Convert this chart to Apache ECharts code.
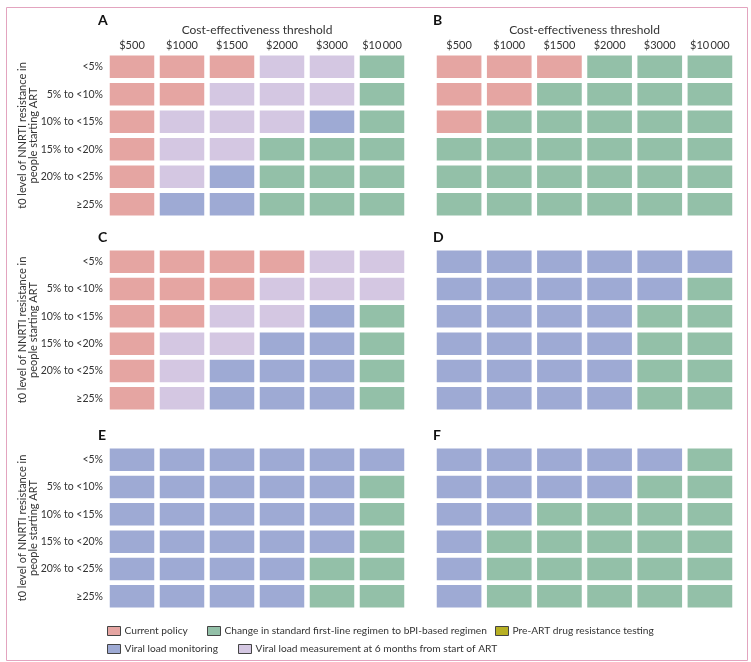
<!DOCTYPE html>
<html><head><meta charset="utf-8">
<script src="https://cdn.jsdelivr.net/npm/echarts@6/dist/echarts.min.js"></script>
<style>html,body{margin:0;padding:0;background:#fff}#c{width:751px;height:662px}</style>
</head><body><div id="c"></div>
<script>
const columns = ['$500', '$1000', '$1500', '$2000', '$3000', '$10\u2009000'];
const rows = ['<5%', '5% to <10%', '10% to <15%', '15% to <20%', '20% to <25%', '≥25%'];
const strategies = ['Current policy', 'Change in standard first-line regimen to bPI-based regimen', 'Pre-ART drug resistance testing', 'Viral load monitoring', 'Viral load measurement at 6 months from start of ART'];
const strategyColors = ['#e5a5a2', '#93c0a8', '#b7b024', '#9eaad4', '#d4c7e2'];
const xTitle = 'Cost-effectiveness threshold';
const yTitle = 't0 level of NNRTI resistance in\npeople starting ART';
// codes: 0 current policy, 1 bPI regimen, 2 pre-ART testing, 3 VL monitoring, 4 VL at 6 months
const panelA = [[0,0,0,4,4,1],[0,0,4,4,4,1],[0,4,4,4,3,1],[0,4,4,1,1,1],[0,4,3,1,1,1],[0,3,3,1,1,1]];
const panelB = [[0,0,0,1,1,1],[0,0,1,1,1,1],[0,1,1,1,1,1],[1,1,1,1,1,1],[1,1,1,1,1,1],[1,1,1,1,1,1]];
const panelC = [[0,0,0,0,4,4],[0,0,0,4,4,4],[0,0,4,4,3,1],[0,4,4,3,3,1],[0,4,3,3,3,1],[0,4,3,3,3,1]];
const panelD = [[3,3,3,3,3,3],[3,3,3,3,3,1],[3,3,3,3,1,1],[3,3,3,3,1,1],[3,3,3,3,1,1],[3,3,3,3,1,1]];
const panelE = [[3,3,3,3,3,3],[3,3,3,3,3,1],[3,3,3,3,3,1],[3,3,3,3,3,1],[3,3,3,3,1,1],[3,3,3,3,1,1]];
const panelF = [[3,3,3,3,3,1],[3,3,3,3,1,1],[3,3,1,1,1,1],[3,1,1,1,1,1],[3,1,1,1,1,1],[3,1,1,1,1,1]];
const panels = [panelA, panelB, panelC, panelD, panelE, panelF];
const panelLetters = ['A', 'B', 'C', 'D', 'E', 'F'];

const FONT = 'Lato';
const TXT = '#333';
const gridPos = [
  {left: 107, top: 53, width: 300, height: 165},
  {left: 434, top: 53, width: 301, height: 165},
  {left: 107, top: 248, width: 300, height: 164},
  {left: 434, top: 248, width: 301, height: 164},
  {left: 107, top: 446, width: 300, height: 164},
  {left: 434, top: 446, width: 301, height: 164}
];
const grids = [], xAxes = [], yAxes = [], series = [], graphics = [];
gridPos.forEach((g, i) => {
  grids.push(Object.assign({containLabel: false}, g));
  const isTop = i < 2, isLeft = i % 2 === 0;
  xAxes.push({
    type: 'category', gridIndex: i, data: columns, position: 'top',
    axisLine: {show: false}, axisTick: {show: false}, splitLine: {show: false},
    axisLabel: {show: isTop, interval: 0, color: TXT, fontFamily: FONT, fontSize: 11, margin: 2},
    name: isTop ? xTitle : '', nameLocation: 'middle', nameGap: 17,
    nameMoveOverlap: false,
    nameTextStyle: {color: TXT, fontFamily: FONT, fontSize: 12}
  });
  yAxes.push({
    type: 'category', gridIndex: i, data: rows, inverse: true,
    axisLine: {show: false}, axisTick: {show: false}, splitLine: {show: false},
    axisLabel: {show: isLeft, interval: 0, color: TXT, fontFamily: FONT, fontSize: 10.5, margin: 4}
  });
  const data = [];
  panels[i].forEach((row, r) => row.forEach((code, c) => data.push([c, r, code])));
  series.push({
    type: 'custom', xAxisIndex: i, yAxisIndex: i, data: data, silent: true,
    renderItem: function (params, api) {
      const p = api.coord([api.value(0), api.value(1)]);
      const s = api.size([1, 1]);
      const gx = 2.75, gy = 2.4;
      return {type: 'rect', shape: {x: p[0] - s[0] / 2 + gx, y: p[1] - s[1] / 2 + gy, width: s[0] - 2 * gx, height: s[1] - 2 * gy},
        style: {fill: strategyColors[api.value(2)]}};
    }
  });
  graphics.push({type: 'text', left: isLeft ? 98 : 433, top: g.top - (isTop ? 40 : 18),
    style: {text: panelLetters[i], fill: '#111', font: 'bold 14px "' + FONT + '"'}});
  if (isLeft) {
    graphics.push({type: 'text', x: 28, y: g.top + g.height / 2, rotation: Math.PI / 2, silent: true,
      style: {text: yTitle, fill: TXT, font: '11px "' + FONT + '"', lineHeight: 11.5, align: 'center', verticalAlign: 'middle'}});
  }
});
strategies.forEach((name, k) => {
  series.push({type: 'bar', name: name, data: [], xAxisIndex: 0, yAxisIndex: 0, itemStyle: {color: strategyColors[k]}});
});
const legendPos = [[107, 626], [207, 626], [495, 626], [107, 644], [238, 644]];
const legends = strategies.map((name, k) => ({
  data: [name], left: legendPos[k][0], top: legendPos[k][1], itemWidth: 13, itemHeight: 9, itemGap: 4,
  icon: 'rect', itemStyle: {borderColor: '#444', borderWidth: 1},
  textStyle: {color: TXT, fontFamily: FONT, fontSize: 10.2, padding: [0, 0, 0, -1]},
  selectedMode: false, padding: 0
}));
graphics.push({type: 'rect', left: 4, top: 5, shape: {x: 0, y: 0, width: 741, height: 653},
  style: {fill: 'none', stroke: '#e3a4bf', lineWidth: 1}, silent: true});

const chart = echarts.init(document.getElementById('c'), null, {renderer: 'canvas'});
chart.setOption({
  animation: false, backgroundColor: '#fff',
  grid: grids, xAxis: xAxes, yAxis: yAxes, series: series, legend: legends, graphic: graphics
});
</script></body></html>
